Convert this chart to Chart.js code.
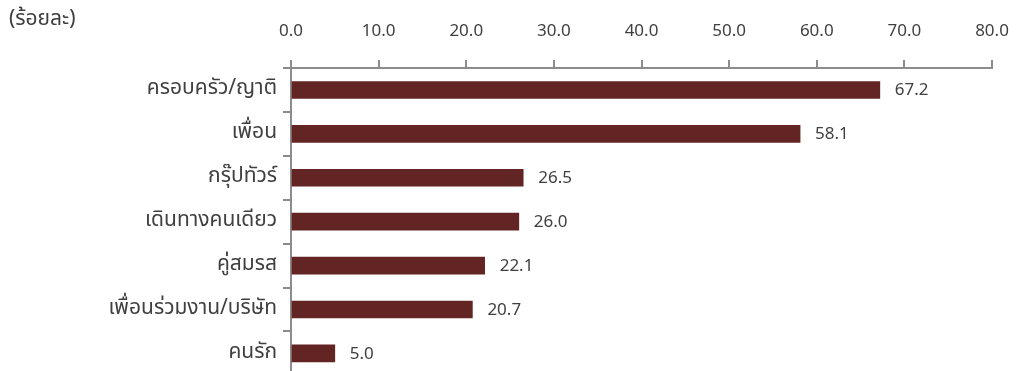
<!DOCTYPE html>
<html>
<head>
<meta charset="utf-8">
<script src="https://cdn.jsdelivr.net/npm/chart.js@4/dist/chart.umd.min.js"></script>
<style>
  html, body { margin: 0; padding: 0; background: #fff; overflow: hidden; }
  #wrap { width: 1017px; height: 394px; }
</style>
</head>
<body>
<div id="wrap"><canvas id="c" width="1017" height="394"></canvas></div>
<script>
// Travel companions, percent of respondents
const categories = ['ครอบครัว/ญาติ', 'เพื่อน', 'กรุ๊ปทัวร์', 'เดินทางคนเดียว', 'คู่สมรส', 'เพื่อนร่วมงาน/บริษัท', 'คนรัก'];
const shares = [67.2, 58.1, 26.5, 26.0, 22.1, 20.7, 5.0];
const unitLabel = '(ร้อยละ)';

const FONT = '"Noto Sans Thai", "Leelawadee UI", Tahoma, "Noto Sans", "DejaVu Sans", sans-serif';
const TEXT = '#404040';
const AXIS = '#8c8c8c';

const valueLabels = {
  id: 'valueLabels',
  afterDatasetsDraw(chart) {
    const ctx = chart.ctx;
    const meta = chart.getDatasetMeta(0);
    ctx.save();
    ctx.font = '17px ' + FONT;
    ctx.fillStyle = TEXT;
    ctx.textAlign = 'left';
    ctx.textBaseline = 'middle';
    meta.data.forEach((bar, i) => {
      ctx.fillText(shares[i].toFixed(1), bar.x + 15, bar.y + 2);
    });
    ctx.restore();
  }
};

const unitTitle = {
  id: 'unitTitle',
  afterDraw(chart) {
    const ctx = chart.ctx;
    ctx.save();
    ctx.font = '21px ' + FONT;
    ctx.fillStyle = TEXT;
    ctx.textAlign = 'left';
    ctx.textBaseline = 'middle';
    ctx.fillText(unitLabel, 9, 21);
    ctx.restore();
  }
};

new Chart(document.getElementById('c'), {
  type: 'bar',
  data: {
    labels: categories,
    datasets: [{
      data: shares,
      backgroundColor: '#632523',
      borderWidth: 0,
      barThickness: 17
    }]
  },
  options: {
    indexAxis: 'y',
    responsive: false,
    animation: false,
    layout: { padding: { left: 0, right: 25, top: 0, bottom: 4 } },
    plugins: { legend: { display: false }, tooltip: { enabled: false } },
    scales: {
      x: {
        position: 'top',
        min: 0,
        max: 80,
        afterFit(scale) {
          scale.height = 68;
          scale.paddingLeft = 0;
          scale.paddingRight = 0;
        },
        ticks: {
          stepSize: 10,
          padding: 17,
          color: TEXT,
          font: { family: FONT, size: 17 },
          callback: v => Number(v).toFixed(1)
        },
        grid: {
          drawOnChartArea: false,
          drawTicks: true,
          tickLength: 8,
          color: AXIS,
          lineWidth: 2
        },
        border: { color: AXIS, width: 2 }
      },
      y: {
        afterFit(scale) { scale.width = 291; },
        ticks: {
          padding: 6,
          color: TEXT,
          font: { family: FONT, size: 21 }
        },
        grid: {
          offset: true,
          drawOnChartArea: false,
          tickLength: 8,
          color: AXIS,
          lineWidth: 2
        },
        border: { color: AXIS, width: 2 }
      }
    }
  },
  plugins: [valueLabels, unitTitle]
});
</script>
</body>
</html>
